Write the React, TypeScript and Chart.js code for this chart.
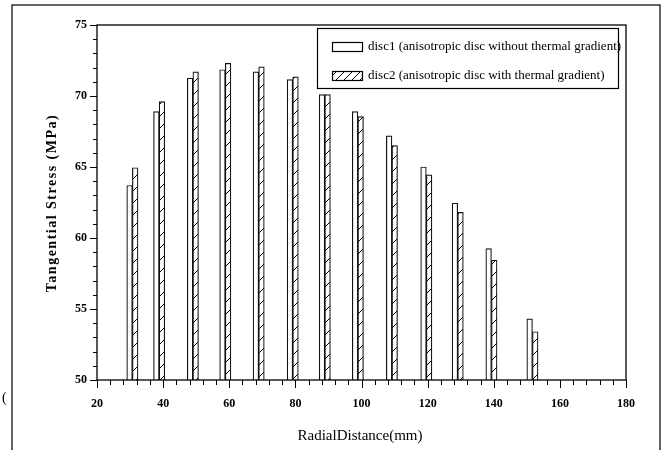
import React, { useEffect, useRef } from 'react';
import { Chart, registerables } from 'chart.js';

Chart.register(...registerables);

// Radial distance (mm) at which each pair of bars is drawn
const radialDistance = [30.7, 38.8, 49.0, 58.8, 68.9, 79.2, 88.9, 98.9, 109.2, 119.6, 129.1, 139.3, 151.7];
// Tangential stress (MPa)
const disc1Stress = [63.7, 68.9, 71.25, 71.85, 71.7, 71.15, 70.1, 68.9, 67.2, 65.0, 62.45, 59.25, 54.3];
const disc2Stress = [64.95, 69.6, 71.7, 72.3, 72.05, 71.35, 70.1, 68.55, 66.5, 64.45, 61.8, 58.45, 53.4];

const seriesLabels = [
  'disc1 (anisotropic disc without thermal gradient)',
  'disc2 (anisotropic disc with thermal gradient)',
];
const xAxisTitle = 'RadialDistance(mm)';
const yAxisTitle = 'Tangential Stress (MPa)';
const xRange = [20, 180];
const yRange = [50, 75];

function makeHatch(ctx: CanvasRenderingContext2D, size: number): CanvasPattern | string {
  const c = document.createElement('canvas');
  c.width = size;
  c.height = size;
  const g = c.getContext('2d');
  if (!g) return '#fff';
  g.fillStyle = '#fff';
  g.fillRect(0, 0, size, size);
  g.strokeStyle = '#000';
  g.lineWidth = 1;
  g.beginPath();
  g.moveTo(0, size);
  g.lineTo(size, 0);
  g.moveTo(-size / 2, size / 2);
  g.lineTo(size / 2, -size / 2);
  g.moveTo(size / 2, size * 1.5);
  g.lineTo(size * 1.5, size / 2);
  g.stroke();
  return ctx.createPattern(c, 'repeat') || '#fff';
}

const SERIF = '"Liberation Serif", "DejaVu Serif", serif';

export default function App() {
  const ref = useRef<HTMLCanvasElement | null>(null);

  useEffect(() => {
    const canvas = ref.current;
    if (!canvas) return;
    const ctx = canvas.getContext('2d')!;
    const hatchBar = makeHatch(ctx, 12);
    const hatchLegend = makeHatch(ctx, 8);

    const decorations = {
      id: 'decorations',
      afterDatasetsDraw(chart: any) {
        const c = chart.ctx as CanvasRenderingContext2D;
        const { left, right, top, bottom } = chart.chartArea;
        const xs = chart.scales.x;
        const ys = chart.scales.y;
        c.save();
        // outer frame
        c.strokeStyle = '#333';
        c.lineWidth = 1.5;
        c.beginPath();
        c.moveTo(12, 452);
        c.lineTo(12, 5);
        c.lineTo(660, 5);
        c.lineTo(660, 452);
        c.stroke();
        // stray paren
        c.fillStyle = '#000';
        c.font = `14px ${SERIF}`;
        c.textAlign = 'left';
        c.textBaseline = 'middle';
        c.fillText('(', 2, 398);

        // plot box
        c.strokeStyle = '#000';
        c.lineWidth = 1.3;
        c.strokeRect(left, top, right - left, bottom - top);

        // x ticks
        c.lineWidth = 1;
        c.beginPath();
        for (let v = xRange[0]; v <= xRange[1]; v += 4) {
          const px = Math.round(xs.getPixelForValue(v)) + 0.5;
          const len = (v - xRange[0]) % 20 === 0 ? 8 : 5;
          c.moveTo(px, bottom);
          c.lineTo(px, bottom + len);
        }
        // y ticks
        for (let v = yRange[0]; v <= yRange[1]; v += 1) {
          const py = Math.round(ys.getPixelForValue(v)) + 0.5;
          const len = (v - yRange[0]) % 5 === 0 ? 7 : 4;
          c.moveTo(left, py);
          c.lineTo(left - len, py);
        }
        c.stroke();

        // axis titles
        c.fillStyle = '#000';
        c.font = `bold 14px ${SERIF}`;
        c.textAlign = 'center';
        c.textBaseline = 'middle';
        c.save();
        (c as any).letterSpacing = '1.5px';
        c.translate(52, 203);
        c.rotate(-Math.PI / 2);
        c.fillText(yAxisTitle, 0, 0);
        c.restore();
        c.font = `15px ${SERIF}`;
        c.fillText(xAxisTitle, 360, 436);

        // legend
        c.fillStyle = '#fff';
        c.fillRect(317, 28, 301, 60);
        c.strokeStyle = '#000';
        c.lineWidth = 1.2;
        c.strokeRect(317.5, 28.5, 301, 60);
        c.fillStyle = '#fff';
        c.fillRect(332, 42, 30, 9);
        c.strokeRect(332.5, 42.5, 30, 9);
        c.fillStyle = hatchLegend as any;
        c.fillRect(332, 71, 30, 9);
        c.strokeRect(332.5, 71.5, 30, 9);
        c.fillStyle = '#000';
        c.font = `13px ${SERIF}`;
        c.textAlign = 'left';
        c.fillText(seriesLabels[0], 368, 47);
        c.fillText(seriesLabels[1], 368, 76);
        c.restore();
      },
    };

    const chart = new Chart(canvas, {
      type: 'bar',
      data: {
        datasets: [
          {
            label: seriesLabels[0],
            data: radialDistance.map((x, i) => ({ x, y: disc1Stress[i] })),
            backgroundColor: '#fff',
            borderColor: '#111',
            borderWidth: 1.2,
            barThickness: 5.6,
          },
          {
            label: seriesLabels[1],
            data: radialDistance.map((x, i) => ({ x, y: disc2Stress[i] })),
            backgroundColor: hatchBar as any,
            borderColor: '#111',
            borderWidth: 1.2,
            barThickness: 5.6,
          },
        ],
      },
      options: {
        animation: false,
        responsive: false,
        events: [],
        layout: { padding: { left: 0, top: 25, right: 40, bottom: 0 } },
        plugins: { legend: { display: false }, tooltip: { enabled: false }, title: { display: false } },
        scales: {
          x: {
            type: 'linear',
            offset: false,
            min: xRange[0],
            max: xRange[1],
            grid: { display: false, drawTicks: false },
            border: { display: false },
            ticks: {
              stepSize: 20,
              padding: 17,
              color: '#000',
              maxRotation: 0,
              font: { family: SERIF, size: 12, weight: 'bold' },
            },
            afterFit: (s: any) => { s.height = 70; },
          },
          y: {
            min: yRange[0],
            max: yRange[1],
            grid: { display: false, drawTicks: false },
            border: { display: false },
            ticks: {
              stepSize: 5,
              padding: 10,
              color: '#000',
              font: { family: SERIF, size: 12, weight: 'bold' },
            },
            afterFit: (s: any) => { s.width = 97; },
          },
        },
      } as any,
      plugins: [decorations],
    });
    return () => chart.destroy();
  }, []);

  return (
    <div style={{ position: 'absolute', left: 0, top: 0, width: 666, height: 450, background: '#fff' }}>
      <canvas ref={ref} width={666} height={450} style={{ display: 'block' }} />
    </div>
  );
}
